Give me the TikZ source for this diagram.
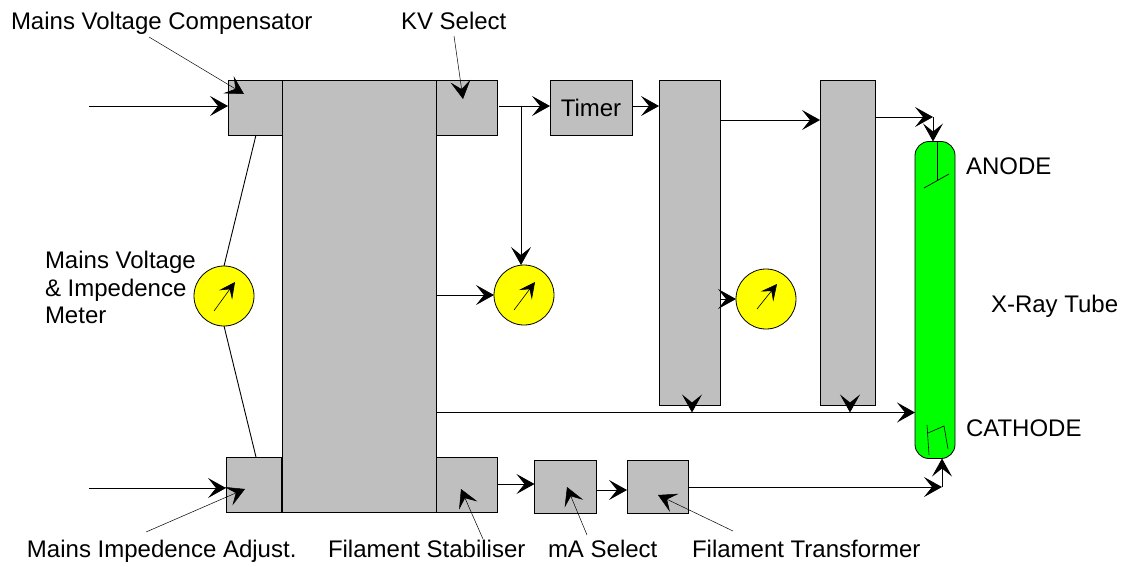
\documentclass[tikz,border=0pt]{standalone}
\usepackage{fontspec}
\setmainfont{Liberation Sans}
\usetikzlibrary{arrows.meta}

\definecolor{boxgrey}{rgb}{0.75,0.75,0.75}
\definecolor{tubegreen}{rgb}{0,1,0}
\definecolor{meteryellow}{rgb}{1,1,0}

\tikzset{
    block/.style={draw=black, fill=boxgrey, line width=0.8pt, inner sep=0pt, outer sep=0pt, anchor=north west, font=\fontsize{24}{24}\selectfont},
    meter/.style={draw=black, fill=meteryellow, line width=0.8pt, circle, inner sep=0pt, outer sep=0pt, minimum size=60pt},
    lbl/.style={inner sep=0pt, outer sep=0pt, anchor=base west, font=\fontsize{24}{24}\selectfont},
    wire/.style={line width=0.9pt, -{Stealth[length=18pt,width=20pt,inset=8pt]}},
    plain/.style={line width=0.9pt},
    pointer/.style={line width=0.5pt, -{Stealth[length=18pt,width=20pt,inset=8pt]}},
    needle/.style={line width=0.6pt, -{Stealth[length=16pt,width=16pt,inset=7pt]}}
}

\begin{document}
\begin{tikzpicture}[x=1pt, y=-1pt]
        \useasboundingbox (0,0) rectangle (1124,566);

        \node[block, minimum width=54pt, minimum height=55pt] (comp) at (228,80) {};
        \node[block, minimum width=55pt, minimum height=55pt] (adjust) at (226,457) {};
        \node[block, minimum width=154pt, minimum height=432pt] (main) at (282,80) {};
        \node[block, minimum width=61pt, minimum height=55pt] (kv) at (436,80) {};
        \node[block, minimum width=61pt, minimum height=55pt] (stab) at (436,457) {};
        \node[block, minimum width=82pt, minimum height=55pt] (timer) at (550,80) {Timer};
        \node[block, minimum width=61pt, minimum height=325pt] (rect) at (659,80) {};
        \node[block, minimum width=55pt, minimum height=325pt] (smooth) at (820,80) {};
        \node[block, minimum width=62pt, minimum height=53pt] (ma) at (534.5,460) {};
        \node[block, minimum width=61pt, minimum height=53pt] (xfmr) at (627,460) {};
        \node[block, fill=tubegreen, rounded corners=14pt, minimum width=40pt, minimum height=317pt] (tube) at (915,141.5) {};

        \node[meter] (meterA) at (224,296) {};
        \node[meter] (meterB) at (524,295) {};
        \node[meter] (meterC) at (766,299) {};

        \node[lbl] (lblcomp) at (11,29) {Mains Voltage Compensator};
        \node[lbl] (lblkv) at (401,29) {KV Select};
        \node[lbl] (lblmainsa) at (45,268) {Mains Voltage};
        \node[lbl] (lblmainsb) at (45,296) {\& Impedence};
        \node[lbl] (lblmainsc) at (45,323) {Meter};
        \node[lbl] (lblanode) at (966,174) {ANODE};
        \node[lbl] (lblcathode) at (966,436) {CATHODE};
        \node[lbl] (lbltube) at (991,312) {X-Ray Tube};
        \node[lbl] (lbladjust) at (27,557) {Mains Impedence Adjust.};
        \node[lbl] (lblstab) at (328,557) {Filament Stabiliser};
        \node[lbl] (lblma) at (548,557) {mA Select};
        \node[lbl] (lblxfmr) at (692,557) {Filament Transformer};

        \coordinate (intop) at (89,106);
        \coordinate (inbot) at (89,488);
        \coordinate (kvout) at (499,106);
        \coordinate (tap) at (521,106);
        \coordinate (timerout) at (632,106);
        \coordinate (rectout) at (720,120);
        \coordinate (smoothout) at (875,117);
        \coordinate (corner) at (933,117);
        \coordinate (hvline) at (436,412.5);
        \coordinate (tapa) at (692,405);
        \coordinate (tapb) at (850,405);
        \coordinate (stabout) at (497,484);
        \coordinate (maout) at (596,490);
        \coordinate (xfmrout) at (688,487);
        \coordinate (cornerb) at (942,487);
        \coordinate (meterin) at (436,295);
        \coordinate (rectmeter) at (720,299);
        \coordinate (linkatop) at (256,135);
        \coordinate (linkabot) at (256,457);

        \draw[wire] (intop) -- (intop -| comp.west);
        \draw[wire] (inbot) -- (inbot -| adjust.west);
        \draw[wire] (kvout) -- (kvout -| timer.west);
        \draw[wire] (tap) -- (tap |- meterB.north);
        \draw[wire] (timerout) -- (timerout -| rect.west);
        \draw[wire] (rectout) -- (rectout -| smooth.west);
        \draw[wire] (smoothout) -- (corner);
        \draw[wire] (corner) -- (corner |- tube.north);
        \draw[wire] (meterin) -- (meterB.west);
        \draw[wire] (rectmeter) -- (meterC.west);
        \draw[wire] (hvline) -- (hvline -| tube.west);
        \draw[wire] (tapa) -- (tapa |- hvline);
        \draw[wire] (tapb) -- (tapb |- hvline);
        \draw[wire] (stabout) -- (stabout -| ma.west);
        \draw[wire] (maout) -- (maout -| xfmr.west);
        \draw[wire] (xfmrout) -- (cornerb);
        \draw[wire] (cornerb) -- (cornerb |- tube.south);

        \draw[plain] (linkatop) -- (meterA.north);
        \draw[plain] (linkabot) -- (meterA.south);

        \coordinate (ptcomp) at (149,37);
        \coordinate (tipcomp) at (244,94);
        \coordinate (ptkv) at (454,36);
        \coordinate (tipkv) at (463,99);
        \coordinate (ptadjust) at (146,532);
        \coordinate (tipadjust) at (245,489);
        \coordinate (ptstab) at (483,539);
        \coordinate (tipstab) at (461,489);
        \coordinate (ptma) at (587,535);
        \coordinate (tipma) at (567,487);
        \coordinate (ptxfmr) at (733,531);
        \coordinate (tipxfmr) at (658,495);
        \draw[pointer] (ptcomp) -- (tipcomp);
        \draw[pointer] (ptkv) -- (tipkv);
        \draw[pointer] (ptadjust) -- (tipadjust);
        \draw[pointer] (ptstab) -- (tipstab);
        \draw[pointer] (ptma) -- (tipma);
        \draw[pointer] (ptxfmr) -- (tipxfmr);

        \draw[needle] ([shift={(-10,15)}]meterA.center) -- ([shift={(11,-14)}]meterA.center);
        \draw[needle] ([shift={(-10,15)}]meterB.center) -- ([shift={(11,-13)}]meterB.center);
        \draw[needle] ([shift={(-9,10)}]meterC.center) -- ([shift={(11,-15)}]meterC.center);

        \draw[line width=0.7pt] (937,141.5) -- (937,180);
        \draw[line width=0.7pt] (924,188) -- (949,174);
        \draw[line width=0.6pt] (929,455) -- (927,425);
        \draw[line width=0.6pt] (928,433) -- (944,426) -- (948,449);
    \end{tikzpicture}
\end{document}
